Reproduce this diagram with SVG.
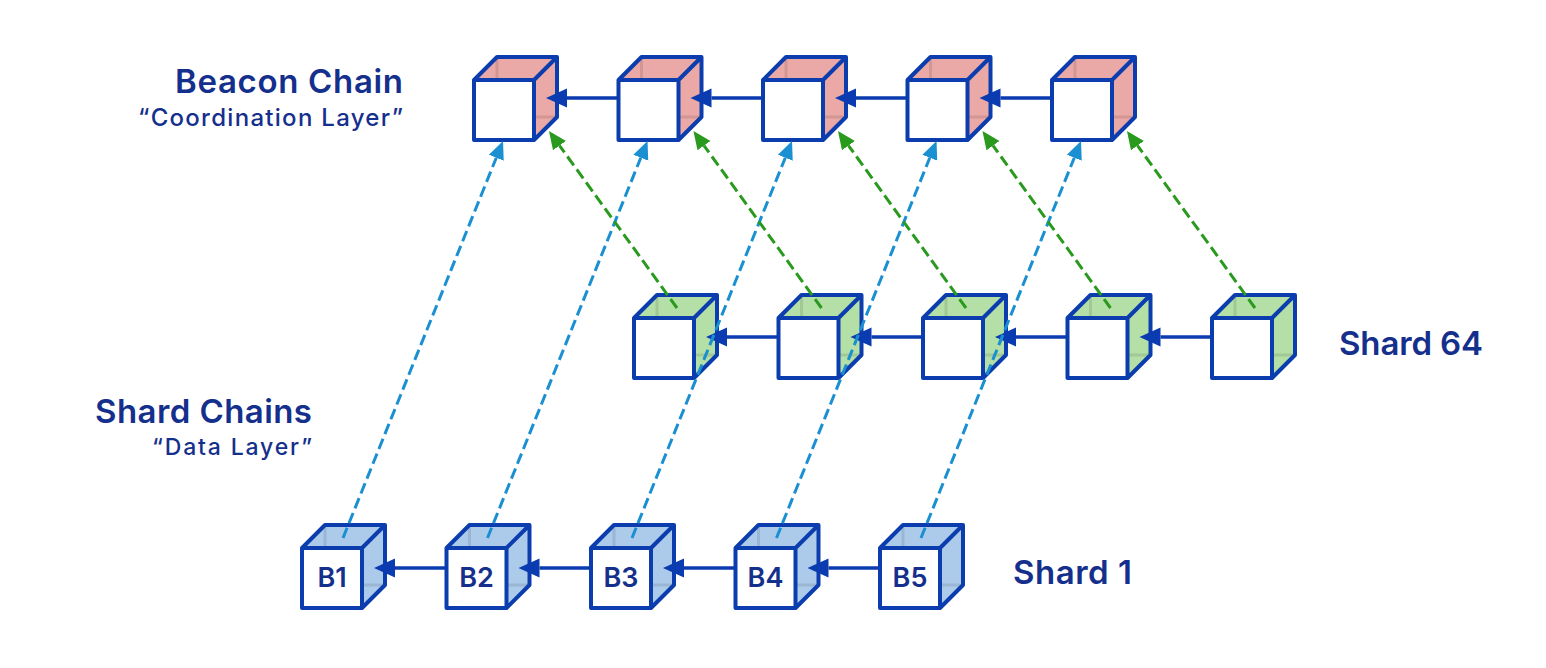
<svg xmlns="http://www.w3.org/2000/svg" xmlns:xlink="http://www.w3.org/1999/xlink" width="1546" height="668" viewBox="0 0 1546 668">
<style>
.lbl{font-family:Inter,"Liberation Sans",sans-serif;fill:#15308c;font-weight:600}
.big{font-size:33px}
.sub{font-size:24px;font-weight:500}
.sub2{font-size:23px;font-weight:500}
.bl{font-family:Inter,"Liberation Sans",sans-serif;fill:#15308c;font-weight:600;font-size:27px;text-anchor:middle}
.chain{stroke:#0b3bb0;stroke-width:3.5;fill:none}
.blue{stroke:#1a8fd2;stroke-width:3;stroke-dasharray:11 5;fill:none}
.green{stroke:#2a9a1f;stroke-width:3;stroke-dasharray:11 5;fill:none}
</style>
<defs>
<g id="cube">
<path d="M0,0 L23,-23 L83,-23 L60,0 Z" stroke="none"/>
<path d="M60,0 L83,-23 L83,37 L60,60 Z" stroke="none"/>
<path d="M23,-23 L23,37 L83,37 M23,37 L0,60" fill="none" stroke="#000" stroke-opacity="0.1" stroke-width="3"/>
<rect x="0" y="0" width="60" height="60" fill="#fff" stroke="none"/>
<path d="M0,0 L23,-23 L83,-23 L83,37 L60,60 L0,60 Z M0,0 L60,0 L60,60 M60,0 L83,-23" fill="none" stroke="#0c3dae" stroke-width="4" stroke-linejoin="round"/>
</g>
<marker id="ah" markerUnits="userSpaceOnUse" markerWidth="24" markerHeight="24" viewBox="0 -12 24 24" refX="0" refY="0" orient="auto"><path d="M0,-9.5 L21,0 L0,9.5 Z" fill="#0b3bb0"/></marker>
<marker id="ahb" markerUnits="userSpaceOnUse" markerWidth="24" markerHeight="24" viewBox="0 -12 24 24" refX="0" refY="0" orient="auto"><path d="M0,-8 L18,0 L0,8 Z" fill="#1a8fd2"/></marker>
<marker id="ahg" markerUnits="userSpaceOnUse" markerWidth="24" markerHeight="24" viewBox="0 -12 24 24" refX="0" refY="0" orient="auto"><path d="M0,-8 L18,0 L0,8 Z" fill="#2a9a1f"/></marker>
</defs>
<rect width="1546" height="668" fill="#fff"/>

<g id="labels">
<text class="lbl big" x="175" y="93" textLength="228" lengthAdjust="spacing">Beacon Chain</text>
<text class="lbl sub" x="138" y="126" textLength="265" lengthAdjust="spacing">“Coordination Layer”</text>
<text class="lbl big" x="95" y="423" textLength="217" lengthAdjust="spacing">Shard Chains</text>
<text class="lbl sub2" x="152" y="455" textLength="160" lengthAdjust="spacing">“Data Layer”</text>
<text class="lbl big" x="1339" y="355" textLength="144" lengthAdjust="spacing">Shard 64</text>
<text class="lbl big" x="1013" y="584" textLength="119" lengthAdjust="spacing">Shard 1</text>
</g>

<g id="beacon-1"><use xlink:href="#cube" href="#cube" x="474" y="80" fill="#eaa9a6"/></g>
<g id="beacon-2"><use xlink:href="#cube" href="#cube" x="618.5" y="80" fill="#eaa9a6"/></g>
<g id="beacon-3"><use xlink:href="#cube" href="#cube" x="763" y="80" fill="#eaa9a6"/></g>
<g id="beacon-4"><use xlink:href="#cube" href="#cube" x="907.5" y="80" fill="#eaa9a6"/></g>
<g id="beacon-5"><use xlink:href="#cube" href="#cube" x="1052" y="80" fill="#eaa9a6"/></g>

<g id="shard64-1"><use xlink:href="#cube" href="#cube" x="634" y="318" fill="#b4dfa6"/></g>
<g id="shard64-2"><use xlink:href="#cube" href="#cube" x="778.5" y="318" fill="#b4dfa6"/></g>
<g id="shard64-3"><use xlink:href="#cube" href="#cube" x="923" y="318" fill="#b4dfa6"/></g>
<g id="shard64-4"><use xlink:href="#cube" href="#cube" x="1067.5" y="318" fill="#b4dfa6"/></g>
<g id="shard64-5"><use xlink:href="#cube" href="#cube" x="1212" y="318" fill="#b4dfa6"/></g>

<g id="shard1-b1"><use xlink:href="#cube" href="#cube" x="302" y="548" fill="#accbeb"/><text class="bl" x="332" y="587">B1</text></g>
<g id="shard1-b2"><use xlink:href="#cube" href="#cube" x="446.5" y="548" fill="#accbeb"/><text class="bl" x="476.5" y="587">B2</text></g>
<g id="shard1-b3"><use xlink:href="#cube" href="#cube" x="591" y="548" fill="#accbeb"/><text class="bl" x="621" y="587">B3</text></g>
<g id="shard1-b4"><use xlink:href="#cube" href="#cube" x="735.5" y="548" fill="#accbeb"/><text class="bl" x="765.5" y="587">B4</text></g>
<g id="shard1-b5"><use xlink:href="#cube" href="#cube" x="880" y="548" fill="#accbeb"/><text class="bl" x="910" y="587">B5</text></g>

<g id="connectors">
<path class="chain" marker-end="url(#ah)" d="M618.5,98 L567,98"/>
<path class="chain" marker-end="url(#ah)" d="M763,98 L711.5,98"/>
<path class="chain" marker-end="url(#ah)" d="M907.5,98 L856,98"/>
<path class="chain" marker-end="url(#ah)" d="M1052,98 L1000.5,98"/>
<path class="chain" marker-end="url(#ah)" d="M778.5,337 L727,337"/>
<path class="chain" marker-end="url(#ah)" d="M923,337 L871.5,337"/>
<path class="chain" marker-end="url(#ah)" d="M1067.5,337 L1016,337"/>
<path class="chain" marker-end="url(#ah)" d="M1212,337 L1160.5,337"/>
<path class="chain" marker-end="url(#ah)" d="M446.5,568 L395,568"/>
<path class="chain" marker-end="url(#ah)" d="M591,568 L539.5,568"/>
<path class="chain" marker-end="url(#ah)" d="M735.5,568 L684,568"/>
<path class="chain" marker-end="url(#ah)" d="M880,568 L828.5,568"/>
<path class="blue" marker-end="url(#ahb)" d="M343,538 L496.3,157.7"/>
<path class="blue" marker-end="url(#ahb)" d="M487.5,538 L640.8,157.7"/>
<path class="blue" marker-end="url(#ahb)" d="M632,538 L785.3,157.7"/>
<path class="blue" marker-end="url(#ahb)" d="M776.5,538 L929.8,157.7"/>
<path class="blue" marker-end="url(#ahb)" d="M921,538 L1074.3,157.7"/>
<path class="green" marker-end="url(#ahg)" d="M677,308 L559.5,145.6"/>
<path class="green" marker-end="url(#ahg)" d="M821.5,308 L704,145.6"/>
<path class="green" marker-end="url(#ahg)" d="M966,308 L848.5,145.6"/>
<path class="green" marker-end="url(#ahg)" d="M1110.5,308 L993,145.6"/>
<path class="green" marker-end="url(#ahg)" d="M1255,308 L1137.5,145.6"/>
</g>
</svg>
